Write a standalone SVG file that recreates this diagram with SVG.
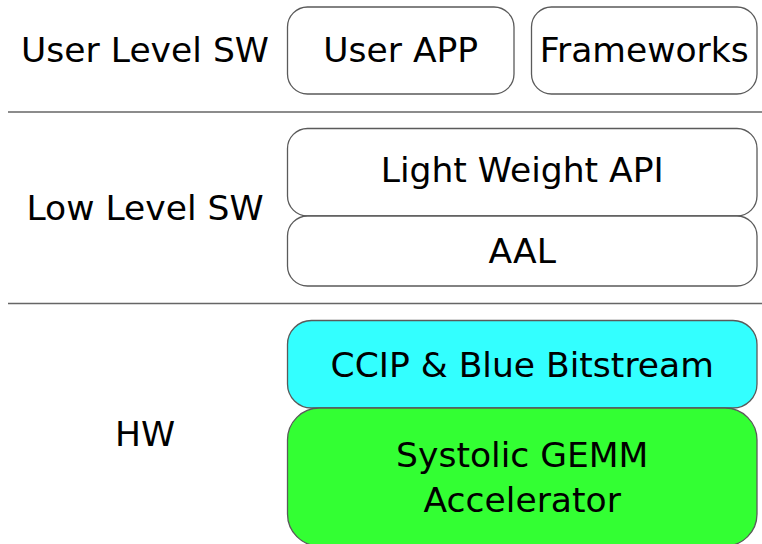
<svg xmlns="http://www.w3.org/2000/svg" width="762" height="544" viewBox="0 0 762 544">
  <style>
    .box { fill: #ffffff; stroke: #5a5a5a; stroke-width: 1.3; }
    .ccip { fill: #33ffff; }
    .accel { fill: #33ff33; }
    .sep { stroke: #666666; stroke-width: 1.5; }
    text { font-family: "DejaVu Sans", sans-serif; font-size: 33px; fill: #000000; text-anchor: middle; }
  </style>
  <rect width="762" height="544" fill="#ffffff"/>

  <!-- layer separators -->
  <g id="separators">
    <line class="sep" x1="8" y1="112" x2="762" y2="112"/>
    <line class="sep" x1="8" y1="303.5" x2="762" y2="303.5"/>
  </g>

  <!-- layer labels (text slightly widened horizontally) -->
  <g id="label-user"><text transform="translate(145,62) scale(1.047,1)">User Level SW</text></g>
  <g id="label-low"><text transform="translate(145,220) scale(1.047,1)">Low Level SW</text></g>
  <g id="label-hw"><text transform="translate(145,446) scale(1.047,1)">HW</text></g>

  <g id="user-app">
    <rect class="box" x="287.5" y="7" width="226.5" height="87" rx="20"/>
    <text transform="translate(400.7,62) scale(1.047,1)">User APP</text>
  </g>
  <g id="frameworks">
    <rect class="box" x="531.5" y="7" width="225.5" height="87" rx="20"/>
    <text transform="translate(644.2,62) scale(1.047,1)">Frameworks</text>
  </g>

  <g id="light-weight-api">
    <rect class="box" x="287.5" y="128.5" width="469.5" height="87.5" rx="20"/>
    <text transform="translate(522.2,182) scale(1.047,1)">Light Weight API</text>
  </g>
  <g id="aal">
    <rect class="box" x="287.5" y="216" width="469.5" height="70" rx="20"/>
    <text transform="translate(522.2,263) scale(1.047,1)">AAL</text>
  </g>

  <g id="ccip">
    <rect class="box ccip" x="287.5" y="320.5" width="469.5" height="87.5" rx="24"/>
    <text transform="translate(522.2,377) scale(1.047,1)">CCIP &amp; Blue Bitstream</text>
  </g>
  <g id="accelerator">
    <rect class="box accel" x="287.5" y="408" width="469.5" height="138" rx="32"/>
    <text transform="translate(522.2,467) scale(1.047,1)">Systolic GEMM</text>
    <text transform="translate(522.2,512) scale(1.047,1)">Accelerator</text>
  </g>
</svg>
